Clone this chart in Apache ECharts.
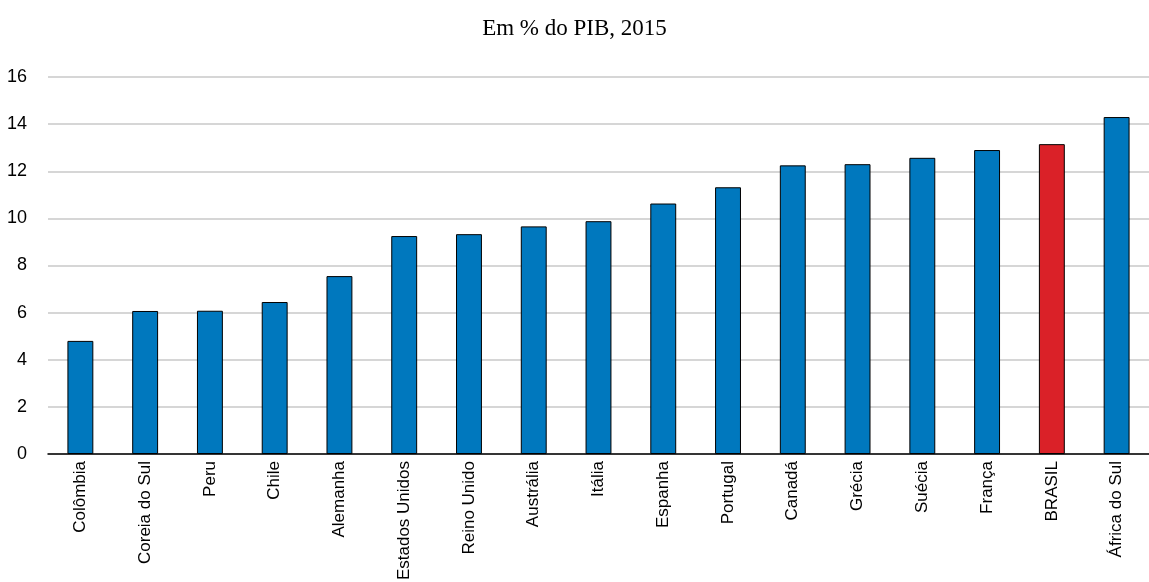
<!DOCTYPE html>
<html>
<head>
<meta charset="utf-8">
<script src="https://cdn.jsdelivr.net/npm/echarts@6/dist/echarts.min.js"></script>
<style>
  html, body { margin: 0; padding: 0; background: #fff; }
  #chart { width: 1149px; height: 582px; }
</style>
</head>
<body>
<div id="chart"></div>
<script>
var countries = ['Colômbia', 'Coreia do Sul', 'Peru', 'Chile', 'Alemanha', 'Estados Unidos', 'Reino Unido',
  'Austrália', 'Itália', 'Espanha', 'Portugal', 'Canadá', 'Grécia', 'Suécia', 'França', 'BRASIL', 'África do Sul'];
var values = [4.8, 6.07, 6.08, 6.45, 7.55, 9.25, 9.33, 9.66, 9.88, 10.63, 11.32, 12.25, 12.3, 12.57, 12.9, 13.15, 14.3];
var highlight = 'BRASIL';
var yTicks = [0, 2, 4, 6, 8, 10, 12, 14, 16];

var sans = '"Liberation Sans", Arial, sans-serif';

var chart = echarts.init(document.getElementById('chart'));
var option = {
  animation: false,
  title: {
    text: 'Em % do PIB, 2015',
    left: 'center',
    top: 12,
    textStyle: { fontFamily: 'Liberation Serif', fontSize: 23, fontWeight: 'normal', color: '#000' }
  },
  grid: { left: 48, right: 0, top: 77, bottom: 128, containLabel: false, outerBoundsMode: 'none' },
  xAxis: {
    type: 'category',
    data: countries,
    axisLine: { lineStyle: { color: '#000', width: 1.5 } },
    axisTick: { inside: true, length: 6, lineStyle: { color: '#000', width: 1.5 } },
    axisLabel: {
      rotate: 90, margin: 7, interval: 0,
      fontFamily: sans, fontSize: 17, color: '#000'
    }
  },
  yAxis: {
    type: 'value',
    min: yTicks[0],
    max: yTicks[yTicks.length - 1],
    interval: 2,
    axisLine: { show: false },
    axisTick: { show: false },
    axisLabel: { margin: 21, fontFamily: sans, fontSize: 18, color: '#000' },
    splitLine: { lineStyle: { color: '#c8c8c8', width: 1.5 } }
  },
  series: [{
    type: 'bar',
    barWidth: '40%',
    data: values.map(function (v, i) {
      return {
        value: v,
        itemStyle: { color: countries[i] === highlight ? '#da2128' : '#0078be' }
      };
    }),
    itemStyle: { borderColor: '#000', borderWidth: 1 }
  }]
};
chart.setOption(option);
</script>
</body>
</html>
